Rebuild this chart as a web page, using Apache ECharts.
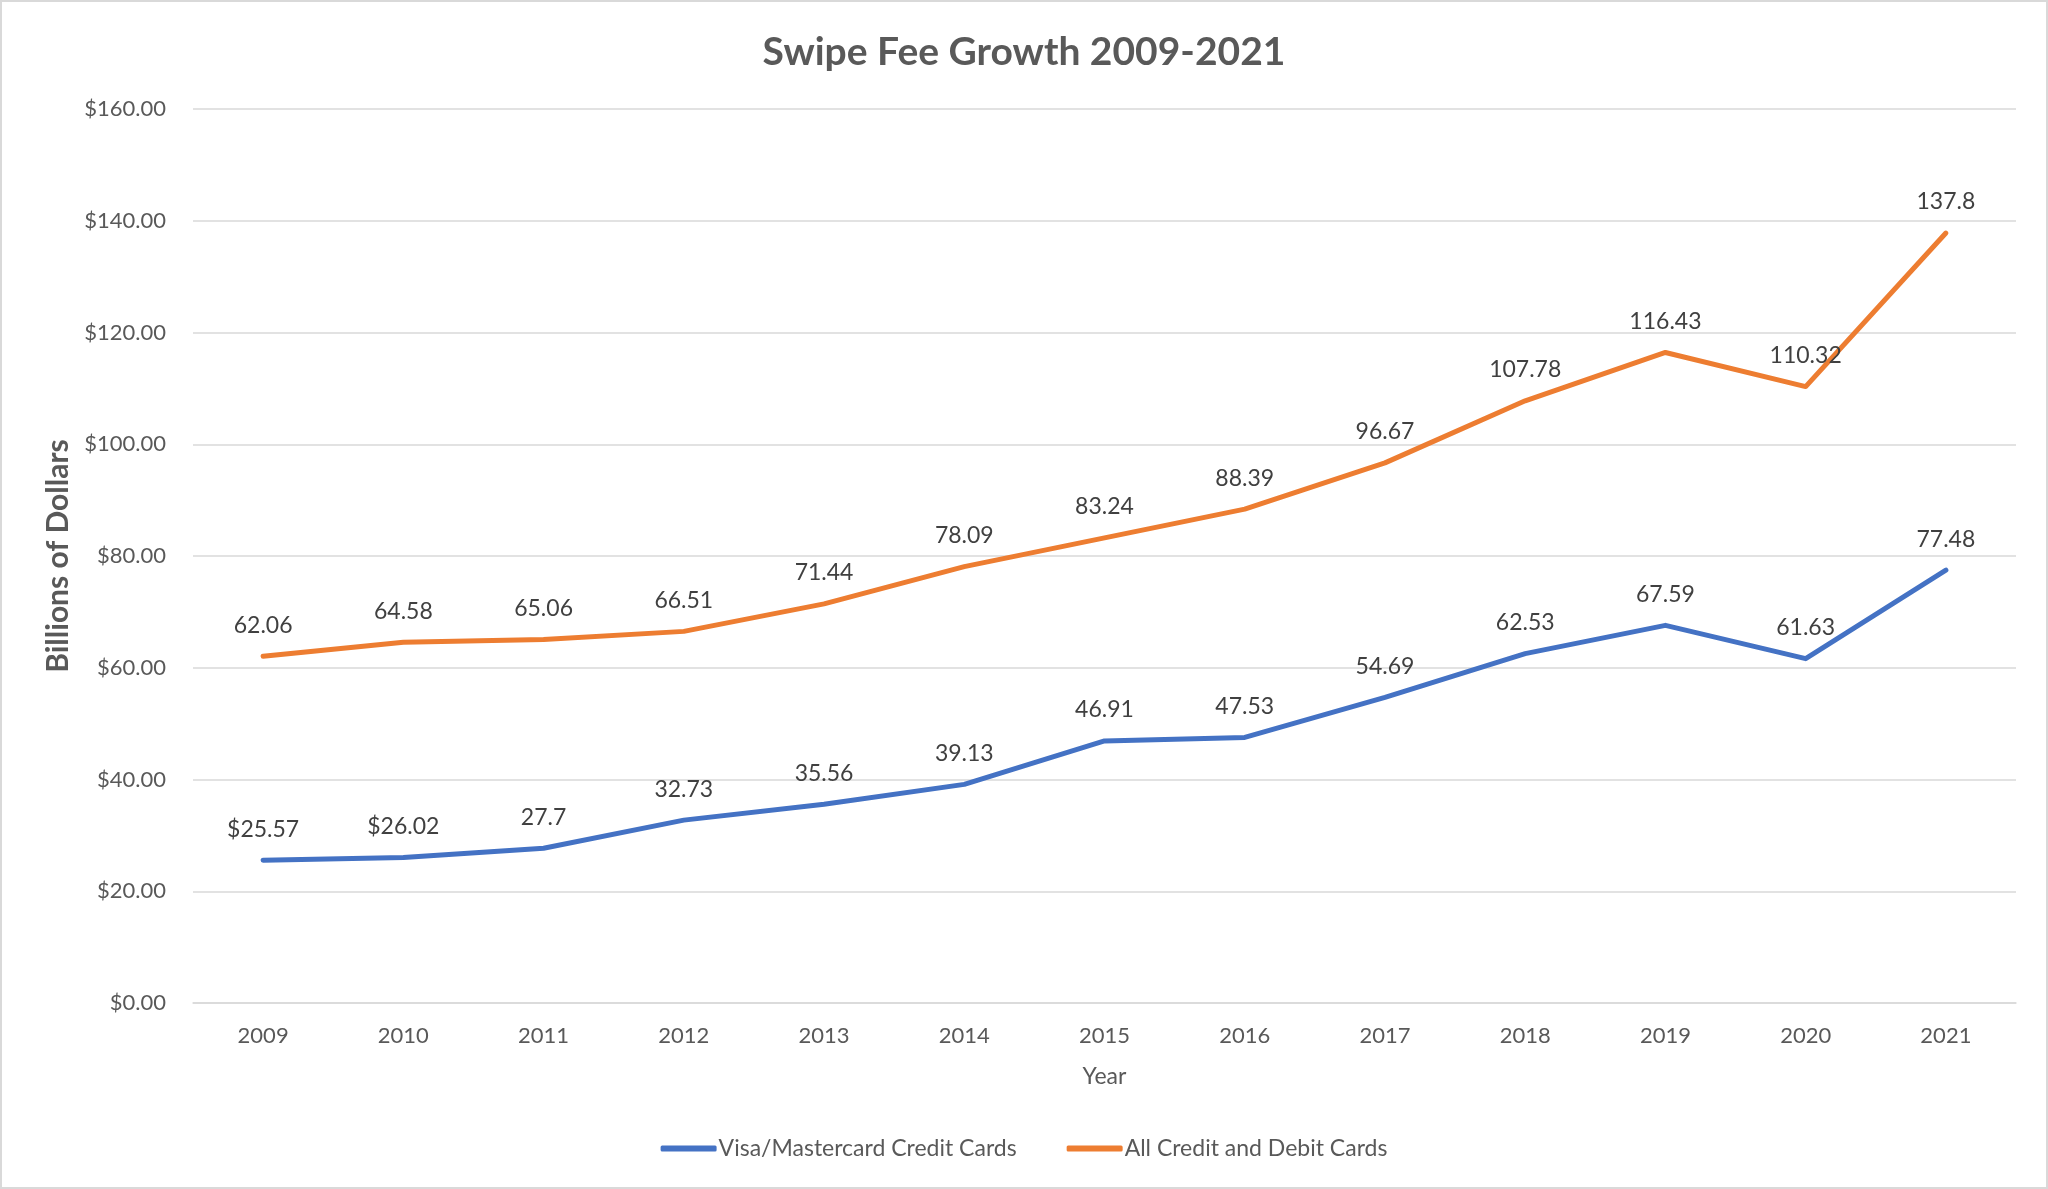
<!DOCTYPE html>
<html>
<head>
<meta charset="utf-8">
<script src="https://cdn.jsdelivr.net/npm/echarts@6/dist/echarts.min.js"></script>
<style>
html,body{margin:0;padding:0;background:#fff;}
#c{width:2048px;height:1189px;box-sizing:border-box;border:2px solid #d9d9d9;}
</style>
</head>
<body>
<div id="c"></div>
<script>
const years = ['2009','2010','2011','2012','2013','2014','2015','2016','2017','2018','2019','2020','2021'];
const visaValues = [25.57,26.02,27.7,32.73,35.56,39.13,46.91,47.53,54.69,62.53,67.59,61.63,77.48];
const allValues = [62.06,64.58,65.06,66.51,71.44,78.09,83.24,88.39,96.67,107.78,116.43,110.32,137.8];
const visaLabels = ['$25.57','$26.02','27.7','32.73','35.56','39.13','46.91','47.53','54.69','62.53','67.59','61.63','77.48'];
const allLabels = ['62.06','64.58','65.06','66.51','71.44','78.09','83.24','88.39','96.67','107.78','116.43','110.32','137.8'];
const yTicks = {min:0, max:160, interval:20};

const FONT = 'Lato, "Open Sans", sans-serif';
const chart = echarts.init(document.getElementById('c'), null, {renderer:'canvas'});
const lbl = (arr) => ({show:true, position:'top', distance:19, color:'#404040', fontSize:23, fontFamily:FONT,
  formatter: p => arr[p.dataIndex]});
chart.setOption({
  animation:false,
  textStyle:{fontFamily:FONT},
  title:{text:'Swipe Fee Growth 2009-2021', left:'center', top:26,
    textStyle:{fontSize:39, fontWeight:'bold', color:'#595959', fontFamily:FONT}},
  grid:{left:191, right:30, top:107, bottom:184, containLabel:false},
  legend:{bottom:22, left:'center', icon:'roundRect', itemWidth:56, itemHeight:6, itemGap:50,
    textStyle:{fontSize:23, color:'#595959', fontFamily:FONT, padding:[0,0,0,-3]},
    data:['Visa/Mastercard Credit Cards','All Credit and Debit Cards']},
  xAxis:{type:'category', data:years, boundaryGap:true,
    name:'Year', nameLocation:'middle', nameGap:62,
    nameTextStyle:{fontSize:23, color:'#595959', fontFamily:FONT},
    axisLine:{show:true, lineStyle:{color:'#d9d9d9', width:1.5}},
    axisTick:{show:false},
    axisLabel:{fontSize:22, color:'#595959', margin:22, fontFamily:FONT}},
  yAxis:{type:'value', min:yTicks.min, max:yTicks.max, interval:yTicks.interval,
    name:'Billions of Dollars', nameLocation:'middle', nameGap:120, nameRotate:90,
    nameTextStyle:{fontSize:30, fontWeight:'bold', color:'#595959', fontFamily:FONT},
    axisLine:{show:false}, axisTick:{show:false},
    splitLine:{lineStyle:{color:'#d9d9d9', width:1.5}},
    axisLabel:{fontSize:22, color:'#595959', margin:27, fontFamily:FONT,
      formatter: v => '$' + v.toFixed(2)}},
  series:[
    {name:'Visa/Mastercard Credit Cards', type:'line', data:visaValues, symbol:'circle', symbolSize:1, showSymbol:true,
      lineStyle:{color:'#4472C4', width:5, cap:'round', join:'round'}, itemStyle:{color:'#4472C4'},
      label:lbl(visaLabels)},
    {name:'All Credit and Debit Cards', type:'line', data:allValues, symbol:'circle', symbolSize:1, showSymbol:true,
      lineStyle:{color:'#ED7D31', width:5, cap:'round', join:'round'}, itemStyle:{color:'#ED7D31'},
      label:lbl(allLabels)}
  ]
});
</script>
</body>
</html>
